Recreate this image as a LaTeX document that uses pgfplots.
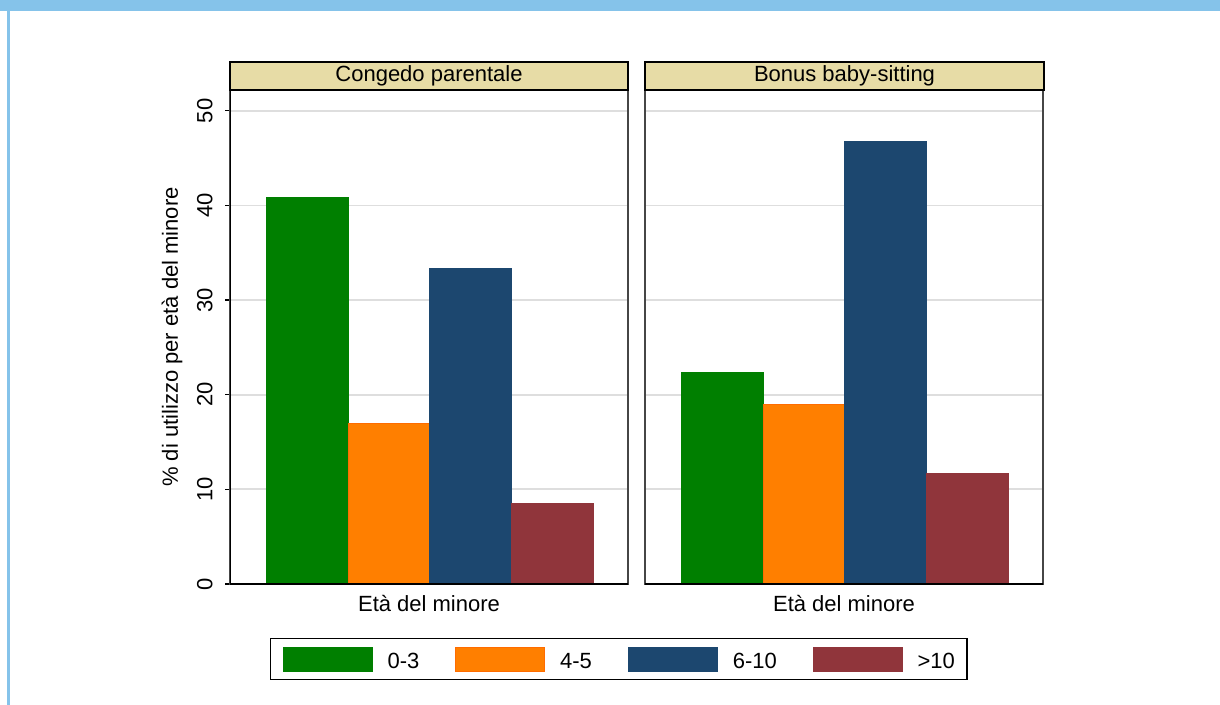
\documentclass[border=0pt]{standalone}
\usepackage{pgfplots}
\pgfplotsset{compat=1.18}
\usepackage{fontspec}
\setmainfont{Liberation Sans}
\definecolor{sgreen}{RGB}{0,127,0}
\definecolor{sorange}{RGB}{255,127,0}
\definecolor{snavy}{RGB}{28,71,111}
\definecolor{smaroon}{RGB}{144,53,59}
\definecolor{stan}{RGB}{231,220,166}
\definecolor{sband}{RGB}{133,195,234}
\definecolor{sgrid}{RGB}{222,222,222}
\definecolor{sframe}{RGB}{70,70,70}
\pgfplotsset{
  panel/.style={
    anchor=south west, scale only axis, width=199pt, height=247pt,
    xmin=-0.95, xmax=3.93, ymin=0, ymax=52.2,
    xtick=\empty, ytick={0,10,...,50},
    ymajorgrids, grid style={color=sgrid, line width=0.9pt},
    axis line style={draw=sframe, line width=0.6pt},
    tick align=outside, major tick length=2.5pt, ytick pos=left,
    tick style={black, line width=0.6pt},
    xlabel={Età del minore},
    xlabel style={at={(axis description cs:0.5,0)}, anchor=north, inner sep=0pt, yshift=-5.5pt},
    /pgf/number format/assume math mode=true,
    legend image code/.code={\fill[##1] (0pt,-4.35pt) rectangle (44.5pt,7.65pt); \path (52pt,0pt);},
  },
  barst/.style={ybar, bar width=1, bar shift=0pt, line width=0.4pt}
}
\begin{document}
\fontsize{11}{13}\selectfont
\begin{tikzpicture}
\fill[white] (0pt,0pt) rectangle (610pt,-352.5pt);
\fill[sband] (0pt,0pt) rectangle (610pt,-5.5pt);
\fill[sband] (3.5pt,-5.5pt) rectangle (5pt,-352.5pt);

\begin{axis}[panel, at={(115pt,-292pt)},
  yticklabel style={rotate=90, anchor=south, inner sep=0pt},
  yticklabel shift=6pt,
  ylabel={\% di utilizzo per età del minore},
  ylabel style={at={(axis description cs:-0.1457,0.5)}, anchor=center},
  legend columns=4,
  legend style={at={(0.977,-0.152)}, anchor=center, draw=black, line width=0.6pt,
    inner xsep=6pt, inner ysep=4pt, column sep=0pt, nodes={inner sep=0pt},
    /tikz/every even column/.append style={column sep=18pt}},
]
\addplot[barst, fill=sgreen, draw=sgreen] coordinates {(0,40.9)};
\addplot[barst, fill=sorange, draw=sorange!85!red] coordinates {(1,17.0)};
\addplot[barst, fill=snavy, draw=snavy] coordinates {(2,33.4)};
\addplot[barst, fill=smaroon, draw=smaroon] coordinates {(3,8.56)};
\legend{0-3,4-5,6-10,>10}
\draw[black, line width=1pt] (rel axis cs:0,1) -- (rel axis cs:0,0) -- (rel axis cs:1,0);
\end{axis}

\begin{axis}[panel, at={(322.5pt,-292pt)}, yticklabels={}, major tick length=0pt, ytick style={draw=none}]
\addplot[barst, fill=sgreen, draw=sgreen] coordinates {(0,22.4)};
\addplot[barst, fill=sorange, draw=sorange!85!red] coordinates {(1,19.0)};
\addplot[barst, fill=snavy, draw=snavy] coordinates {(2,46.8)};
\addplot[barst, fill=smaroon, draw=smaroon] coordinates {(3,11.7)};
\draw[black, line width=1pt] (rel axis cs:0,0) -- (rel axis cs:1,0);
\end{axis}

\draw[fill=stan, draw=black, line width=0.8pt] (115pt,-31pt) rectangle (314pt,-45pt);
\node at (214.5pt,-38pt) {Congedo parentale};
\draw[fill=stan, draw=black, line width=0.8pt] (322.5pt,-31pt) rectangle (522pt,-45pt);
\node at (422.25pt,-38pt) {Bonus baby-sitting};
\end{tikzpicture}
\end{document}
